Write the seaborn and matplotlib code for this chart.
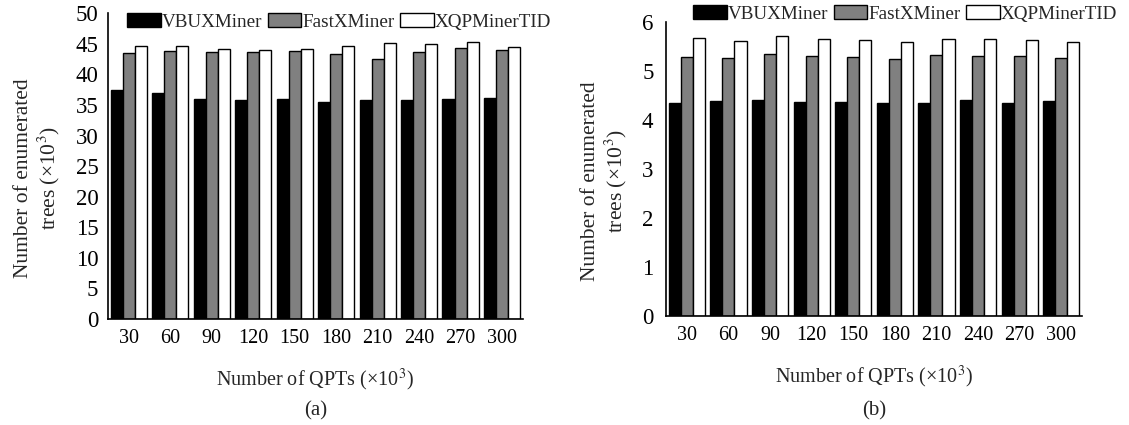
import matplotlib
matplotlib.use("Agg")
import matplotlib.pyplot as plt
import seaborn as sns
import pandas as pd
from matplotlib.patches import Patch

qpts = ["30", "60", "90", "120", "150", "180", "210", "240", "270", "300"]
series = ["VBUXMiner", "FastXMiner", "XQPMinerTID"]

a_vbux = [37.4, 36.9, 36.0, 35.8, 36.0, 35.4, 35.8, 35.8, 36.0, 36.2]
a_fast = [43.5, 43.8, 43.7, 43.6, 43.8, 43.3, 42.5, 43.7, 44.3, 44.0]
a_xqp = [44.6, 44.7, 44.1, 43.9, 44.1, 44.6, 45.2, 45.0, 45.3, 44.4]

b_vbux = [4.35, 4.38, 4.40, 4.36, 4.36, 4.34, 4.34, 4.40, 4.34, 4.38]
b_fast = [5.28, 5.27, 5.34, 5.31, 5.28, 5.25, 5.33, 5.31, 5.30, 5.26]
b_xqp = [5.68, 5.62, 5.71, 5.66, 5.64, 5.59, 5.66, 5.66, 5.63, 5.60]

colors = {"VBUXMiner": "#000000", "FastXMiner": "#808080", "XQPMinerTID": "#ffffff"}

sns.set_style("white")
plt.rcParams["font.family"] = ["Liberation Serif", "DejaVu Serif"]
plt.rcParams["mathtext.fontset"] = "stix"


def long_df(v1, v2, v3):
    rows = []
    for name, vals in zip(series, [v1, v2, v3]):
        for q, v in zip(qpts, vals):
            rows.append({"QPTs": q, "Algorithm": name, "Value": v})
    return pd.DataFrame(rows)


fig = plt.figure(figsize=(11.29, 4.25), dpi=100)
ax1 = fig.add_axes([0.0957, 0.2494, 0.3673, 0.7196])
ax2 = fig.add_axes([0.5899, 0.2565, 0.3685, 0.6918])

FS = 14.5
YFS = 16.5
LFS = 13.8

panels = [
    (ax1, long_df(a_vbux, a_fast, a_xqp), (0, 50), list(range(0, 51, 5)), "(a)", (0.1125, 0.948), -0.110, 7),
    (ax2, long_df(b_vbux, b_fast, b_xqp), (0, 6), list(range(0, 7)), "(b)", (0.614, 0.967), -0.088, 9),
]

for ax, df, ylim, yticks, tag, legpos, ylx, ypad in panels:
    sns.barplot(data=df, x="QPTs", y="Value", hue="Algorithm", order=qpts,
                hue_order=series, palette=colors, edgecolor="black",
                linewidth=1.0, width=0.87, gap=0, ax=ax, legend=False)
    ax.set_xlim(-0.5, 9.5)
    ax.set_ylim(*ylim)
    ax.set_yticks(yticks)
    ax.set_yticklabels([str(t) for t in yticks], fontsize=YFS)
    ax.set_xticks(range(len(qpts)))
    ax.set_xticklabels(qpts, fontsize=FS)
    for s in ["top", "right"]:
        ax.spines[s].set_visible(False)
    for s in ["left", "bottom"]:
        ax.spines[s].set_color("black")
        ax.spines[s].set_linewidth(1.2)
    ax.tick_params(axis="y", direction="in", length=5, width=1, pad=ypad, colors="black")
    ax.tick_params(axis="x", direction="in", length=5, width=1, pad=7, colors="black")
    ax.set_xlabel("Number of QPTs (×10$^3$)", fontsize=FS, labelpad=14)
    ax.set_ylabel("Number of enumerated\ntrees (×10$^3$)", fontsize=15.5, linespacing=1.15)
    ax.yaxis.set_label_coords(ylx, 0.46)
    ax.text(0.5, -0.27 if tag == "(a)" else -0.29, tag, transform=ax.transAxes,
            ha="center", va="top", fontsize=15)
    handles = [Patch(facecolor=colors[s], edgecolor="black", linewidth=1.0, label=s) for s in series]
    fig.legend(handles=handles, loc="center left", bbox_to_anchor=legpos,
               bbox_transform=fig.transFigure, ncol=3, frameon=False,
               fontsize=LFS, handlelength=1.75, handleheight=0.7,
               handletextpad=0.05, columnspacing=0.3, borderpad=0, borderaxespad=0)

fig.savefig("out.png", dpi=100)
